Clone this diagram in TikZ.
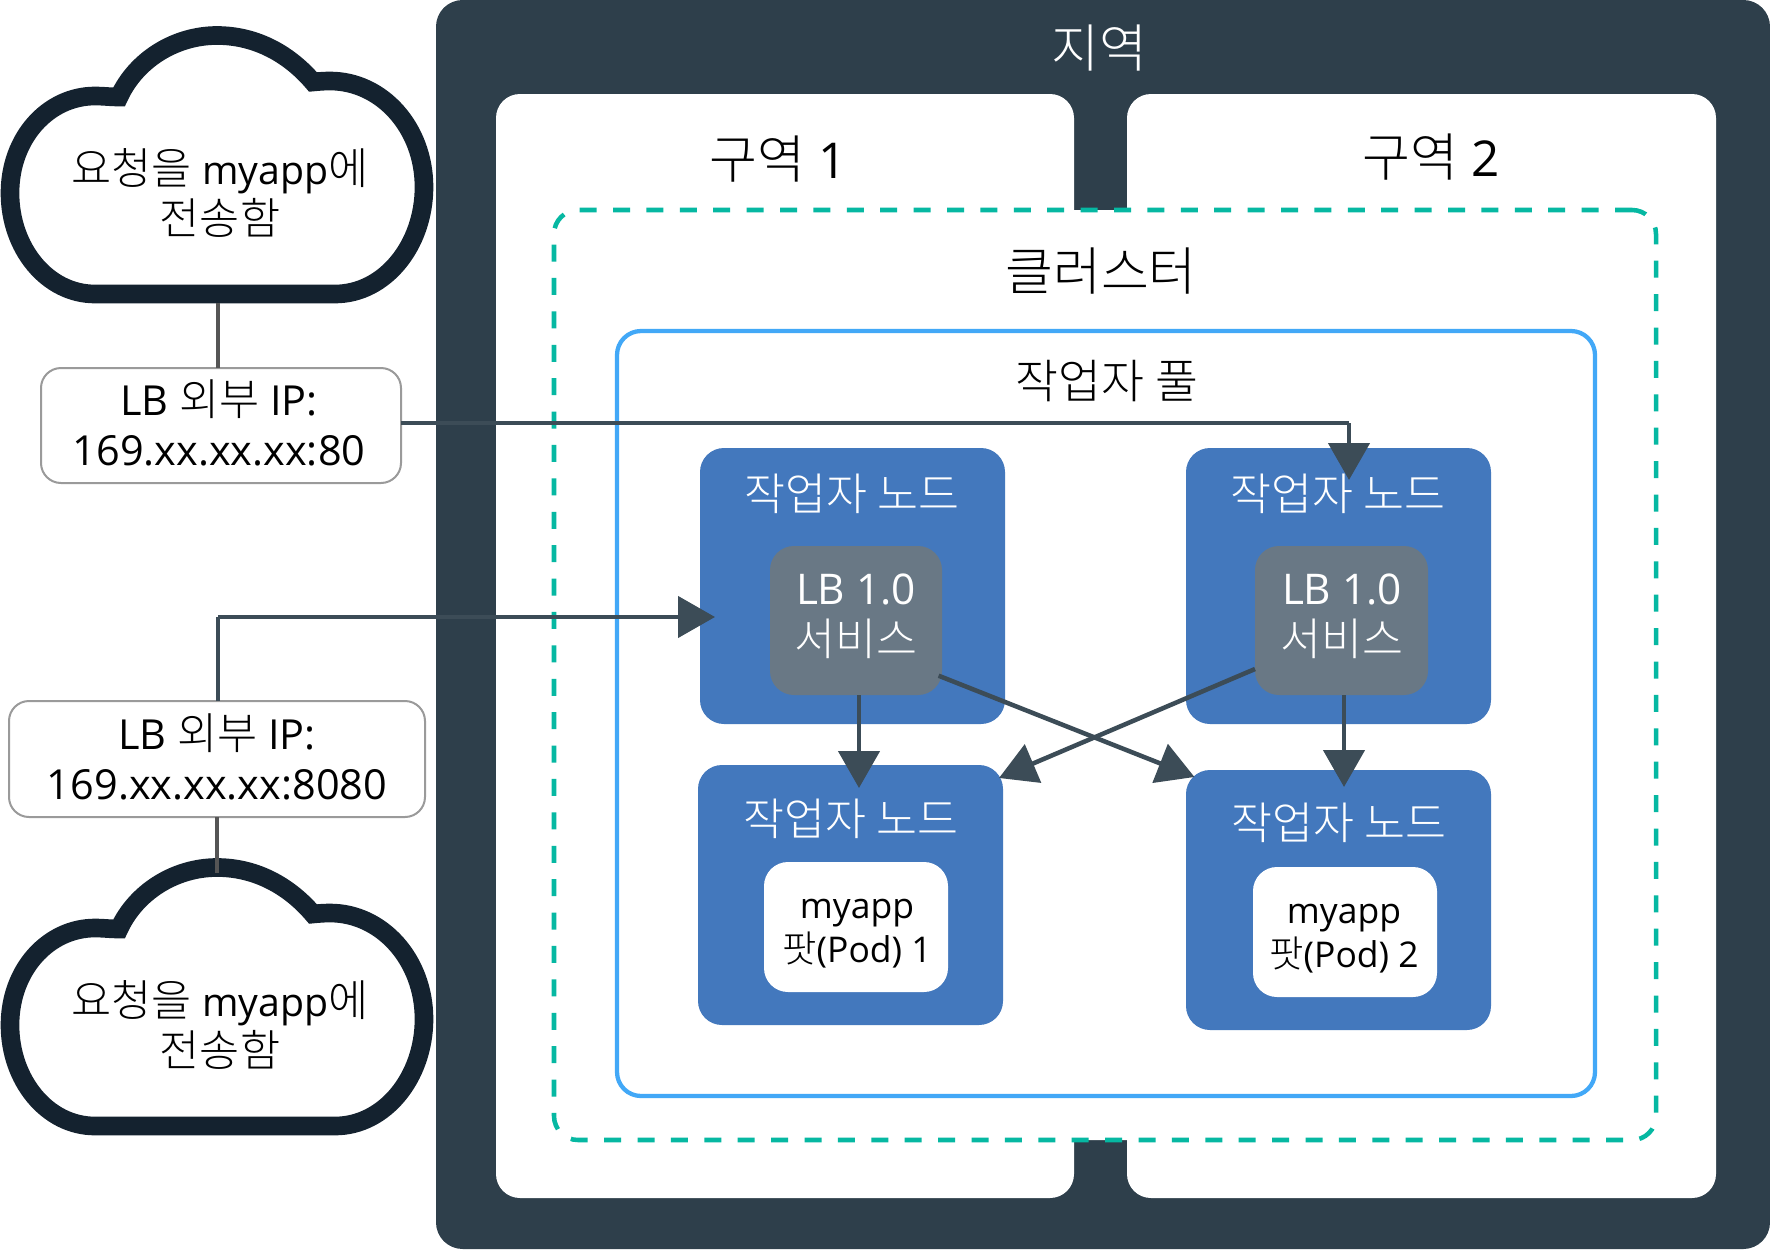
\documentclass[tikz,border=0pt]{standalone}
\usepackage{fontspec}
\setmainfont{Open Sans}[Scale=0.95]
\newfontfamily\kr{Noto Sans CJK KR Light}
\usetikzlibrary{arrows.meta,calc}
\newcommand{\K}[1]{{\kr #1}}
\newcommand{\M}{{\fontsize{31}{38}\selectfont myapp}}
\newcommand{\rbox}[6]{%
  \pgfmathsetmacro{\cxv}{(#2+#4)/2}%
  \pgfmathsetmacro{\cyv}{(#3+#5)/2}%
  \pgfmathsetmacro{\wv}{(#4-#2)*0.75}%
  \pgfmathsetmacro{\hv}{(#5-#3)*0.75}%
  \node[#6,minimum width=\wv pt,minimum height=\hv pt] (#1) at (\cxv,\cyv) {};}
\definecolor{regionc}{HTML}{2E3F4B}
\definecolor{cloudc}{HTML}{14222F}
\definecolor{bluec}{HTML}{4378BD}
\definecolor{greyc}{HTML}{697885}
\definecolor{linec}{HTML}{3C4C57}
\definecolor{tealc}{HTML}{06B8A2}
\definecolor{poolc}{HTML}{42A8F7}
\definecolor{borderc}{HTML}{9A9A9A}
\definecolor{stemc}{HTML}{555555}
\tikzset{
  base/.style={inner sep=0pt,outer sep=0pt,rectangle},
  regionbox/.style={base,fill=regionc,rounded corners=20pt},
  zonebox/.style={base,fill=white,rounded corners=18pt},
  clusterbox/.style={base,fill=white,draw=tealc,line width=3.4pt,rounded corners=18pt,dash pattern=on 12.75pt off 12.3pt},
  poolbox/.style={base,fill=white,draw=poolc,line width=3.2pt,rounded corners=18pt},
  workerbox/.style={base,fill=bluec,rounded corners=18pt},
  lbbox/.style={base,fill=greyc,rounded corners=18pt},
  podbox/.style={base,fill=white,rounded corners=18pt},
  ipbox/.style={base,fill=white,draw=borderc,line width=1.5pt,rounded corners=15pt},
  cloudline/.style={draw=cloudc,fill=white,line width=14pt,miter limit=10},
  lab/.style={inner sep=0pt,outer sep=0pt,align=center},
  labtitle/.style={lab,font=\fontsize{39}{46}\selectfont},
  labmid/.style={lab,font=\fontsize{32.7}{38}\selectfont},
  labwhite/.style={lab,text=white,font=\fontsize{33.4}{38}\selectfont},
  labpod/.style={lab,font=\fontsize{28}{33}\selectfont},
  arrow/.style={draw=linec,line width=3.4pt,-{Triangle[length=27.75pt,width=30.75pt]}},
  plainline/.style={draw=linec,line width=3.2pt},
  stem/.style={draw=stemc,line width=2.6pt},
}
\begin{document}
\begin{tikzpicture}[x=0.75pt,y=-0.75pt]
\useasboundingbox (0,0) rectangle (1770,1249);
\rbox{region}{436}{0}{1770}{1249}{regionbox}
\rbox{zoneA}{496}{94}{1074}{1198}{zonebox}
\rbox{zoneB}{1127}{94}{1716}{1198}{zonebox}
\rbox{cluster}{554}{210}{1656}{1140}{clusterbox}
\rbox{pool}{617}{331}{1595}{1096}{poolbox}
\rbox{wA}{700}{448}{1005}{724}{workerbox}
\rbox{wB}{1186}{448}{1491}{724}{workerbox}
\rbox{wC}{698}{765}{1003}{1025}{workerbox}
\rbox{wD}{1186}{770}{1491}{1030}{workerbox}
\rbox{lbA}{770}{546}{942}{695}{lbbox}
\rbox{lbB}{1255}{546}{1428}{695}{lbbox}
\rbox{podA}{764}{862}{948}{992}{podbox}
\rbox{podB}{1253}{867}{1437}{997}{podbox}
\rbox{ipA}{41}{368}{401}{483}{ipbox}
\rbox{ipB}{9}{701}{425}{817}{ipbox}
% clouds
\draw[cloudline] (95,294) .. controls (47,294) and (10,248) .. (10,193) .. controls (10,138) and (48,96) .. (95,96) .. controls (103,96) and (111,97) .. (119,97) .. controls (136,60) and (175,35.5) .. (217,35.5) .. controls (257,35.5) and (290,55) .. (313,82) .. controls (318,81.5) and (324,81) .. (330,81) .. controls (382,81) and (424,128) .. (424,187) .. controls (424,245) and (385,294) .. (335,294) -- cycle;
\draw[cloudline,yshift=-624pt] (95,294) .. controls (47,294) and (10,248) .. (10,193) .. controls (10,138) and (48,96) .. (95,96) .. controls (103,96) and (111,97) .. (119,97) .. controls (136,60) and (175,35.5) .. (217,35.5) .. controls (257,35.5) and (290,55) .. (313,82) .. controls (318,81.5) and (324,81) .. (330,81) .. controls (382,81) and (424,128) .. (424,187) .. controls (424,245) and (385,294) .. (335,294) -- cycle;
% texts
\node[labtitle,text=white] (tRegion) at (1099,48) {\K{지역}};
\node[labtitle] (tZoneA) at (778,159) {\K{구역} 1};
\node[labtitle] (tZoneB) at (1431,157) {\K{구역} 2};
\node[labtitle] (tCluster) at (1101,271) {\K{클러스터}};
\node[labmid,font=\fontsize{35}{40}\selectfont] (tPool) at (1107,381) {\K{작업자 풀}};
\node[labwhite] (tWA) at (852,494) {\K{작업자 노드}};
\node[labwhite] (tWB) at (1338,494) {\K{작업자 노드}};
\node[labwhite] (tWC) at (851,819) {\K{작업자 노드}};
\node[labwhite] (tWD) at (1339,823) {\K{작업자 노드}};
\node[labwhite] (tLA) at (856,616) {LB 1.0\\\K{서비스}};
\node[labwhite] (tLB) at (1342,616) {LB 1.0\\\K{서비스}};
\node[labpod] (tPA) at (857,934) {myapp\\\K{팟}(Pod) 1};
\node[labpod] (tPB) at (1344,939) {myapp\\\K{팟}(Pod) 2};
\node[labmid] (tCA) at (220,193) {\K{요청을} \M\K{에}\\\K{전송함}};
\node[labmid] (tCB) at (220,1025) {\K{요청을} \M\K{에}\\\K{전송함}};
\node[labmid,font=\fontsize{32.7}{37}\selectfont] (tIA) at (219,423) {LB \K{외부} IP:\\169.xx.xx.xx:80};
\node[labmid,font=\fontsize{32.7}{37}\selectfont] (tIB) at (217,757) {LB \K{외부} IP:\\169.xx.xx.xx:8080};
% connectors
\coordinate (stemAtop) at (218,303);
\coordinate (stemBend) at (217,873);
\coordinate (turnA) at (1349,423);
\coordinate (tipA) at (1349,480);
\coordinate (turnB) at (218,617);
\coordinate (tipB) at (715,617);
\coordinate (tipC) at (859,788);
\coordinate (tipD) at (1344,787);
\coordinate (tipE) at (1194.5,777);
\coordinate (tipF) at (999,778);
\coordinate (fromE) at (938.6,675.7);
\coordinate (fromF) at (1255,669);
\draw[stem] (stemAtop) -- (218,368);
\draw[stem] (217,817) -- (stemBend);
\draw[plainline] (401,423) -- (turnA);
\draw[arrow] (turnA) -- (tipA);
\draw[plainline] (218,701) -- (turnB);
\draw[arrow] (turnB) -- (tipB);
\draw[arrow] (859,695) -- (tipC);
\draw[arrow] (1344,695) -- (tipD);
\draw[arrow] (fromE) -- (tipE);
\draw[arrow] (fromF) -- (tipF);
\end{tikzpicture}
\end{document}
